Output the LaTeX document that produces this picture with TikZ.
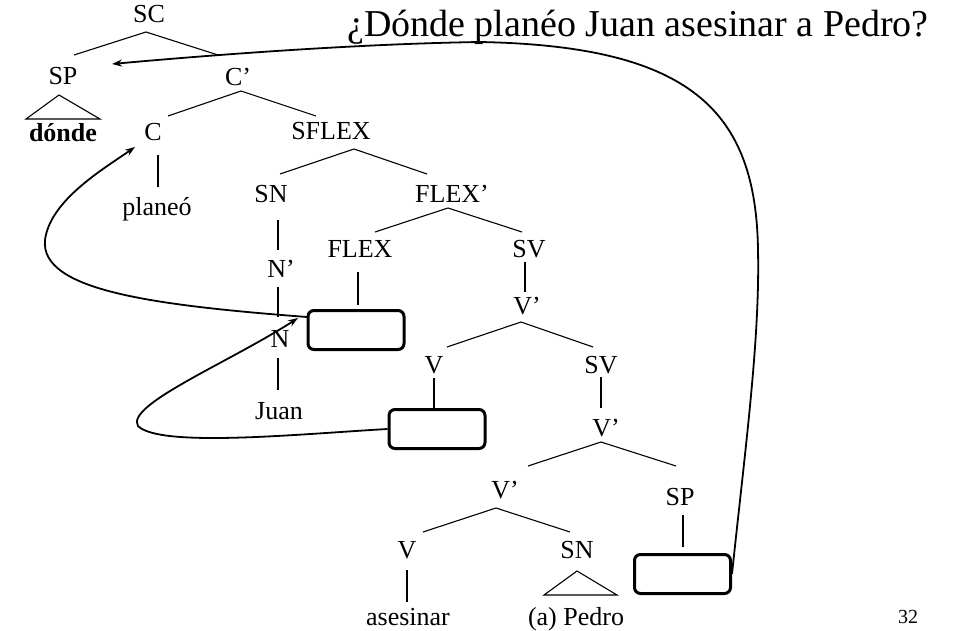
\documentclass[tikz,border=0pt]{standalone}
\usepackage{fontspec}
\setmainfont{Liberation Serif}
\usetikzlibrary{arrows.meta,calc}
\begin{document}
\begin{tikzpicture}[x=1pt,y=-1pt,
  lab/.style={anchor=base,inner sep=0pt,font=\fontsize{26}{28}\selectfont},
  tline/.style={line width=1.1pt},
  trace/.style={draw,line width=3pt,rounded corners=6pt,minimum width=96pt,minimum height=39pt,inner sep=0pt},
  mv/.style={line width=1.8pt,-{Stealth[length=10pt,width=7pt]}},
  mvn/.style={line width=1.8pt}]
\useasboundingbox (0,0) rectangle (963,631);
% title
\node[anchor=base,inner sep=0pt,font=\fontsize{38}{40}\selectfont] (title) at (638,37) {¿Dónde planéo Juan asesinar a Pedro?};
\node[anchor=base,inner sep=0pt,font=\fontsize{20}{22}\selectfont] (pg) at (908,623) {32};
% labels
\node[lab] (SC) at (149,23) {SC};
\node[lab] (SP) at (63,85) {SP};
\node[lab] (Cb) at (238,86) {C’};
\node[lab,font=\fontsize{26}{28}\selectfont\bfseries] (donde) at (63,142) {dónde};
\node[lab] (C) at (153,141) {C};
\node[lab] (SFLEX) at (331,140) {SFLEX};
\node[lab] (planeo) at (157,215) {planeó};
\node[lab] (SN) at (271,202) {SN};
\node[lab] (FLEXb) at (452,202) {FLEX’};
\node[lab] (Nb) at (281,277) {N’};
\node[lab] (FLEX) at (360,257) {FLEX};
\node[lab] (SV) at (529,257) {SV};
\node[lab] (Vb1) at (527,314) {V’};
\node[lab] (N) at (280,347) {N};
\node[lab] (V1) at (434,373) {V};
\node[lab] (SV2) at (601,373) {SV};
\node[lab] (Juan) at (279,419) {Juan};
\node[lab] (Vb2) at (606,436) {V’};
\node[lab] (Vb3) at (505,498) {V’};
\node[lab] (SP2) at (680,505) {SP};
\node[lab] (V2) at (407,558) {V};
\node[lab] (SN2) at (577,558) {SN};
\node[lab] (asesinar) at (408,625) {asesinar};
\node[lab] (pedro) at (576,625) {(a) Pedro};
% trace boxes
\node[trace] (box1) at (356,330) {};
\node[trace] (box2) at (437,429) {};
\node[trace] (box3) at (682.5,574) {};
% tree branch coordinates
\coordinate (aSC) at (146,32); \coordinate (lSC) at (74,55); \coordinate (rSC) at (218,55);
\coordinate (aSP) at (59,95); \coordinate (bSPl) at (26,119); \coordinate (bSPr) at (100,119);
\coordinate (aCb) at (241,91); \coordinate (lCb) at (168,116); \coordinate (rCb) at (316,116);
\coordinate (sC1) at (158,155); \coordinate (sC2) at (158,187);
\coordinate (aSF) at (354,149); \coordinate (lSF) at (280,174); \coordinate (rSF) at (427,174);
\coordinate (sSN1) at (278,220); \coordinate (sSN2) at (278,250);
\coordinate (sNb1) at (278,287); \coordinate (sNb2) at (278,317);
\coordinate (sN1) at (278,358); \coordinate (sN2) at (278,390);
\coordinate (aFb) at (448,208); \coordinate (lFb) at (375,232); \coordinate (rFb) at (522,232);
\coordinate (sF1) at (358,272); \coordinate (sF2) at (358,305);
\coordinate (sSV1) at (525,262); \coordinate (sSV2) at (525,292);
\coordinate (aVb1) at (521,322); \coordinate (lVb1) at (447,347); \coordinate (rVb1) at (593,347);
\coordinate (sV1a) at (434,378); \coordinate (sV1b) at (434,409);
\coordinate (sSVa) at (601,377); \coordinate (sSVb) at (601,408);
\coordinate (aVb2) at (601,442); \coordinate (lVb2) at (528,466); \coordinate (rVb2) at (676,466);
\coordinate (aVb3) at (496,508); \coordinate (lVb3) at (423,532); \coordinate (rVb3) at (570,532);
\coordinate (sSPa) at (683,515); \coordinate (sSPb) at (683,547);
\coordinate (sV2a) at (407,570); \coordinate (sV2b) at (407,602);
\coordinate (aSN2) at (577,571); \coordinate (bSNl) at (544,595); \coordinate (bSNr) at (617,595);
% tree lines
\draw[tline] (lSC) -- (aSC) -- (rSC);
\draw[tline] (bSPl) -- (aSP) -- (bSPr) -- cycle;
\draw[tline] (lCb) -- (aCb) -- (rCb);
\draw[tline] (sC1) -- (sC2);
\draw[tline] (lSF) -- (aSF) -- (rSF);
\draw[tline] (sSN1) -- (sSN2);
\draw[tline] (sNb1) -- (sNb2);
\draw[tline] (sN1) -- (sN2);
\draw[tline] (lFb) -- (aFb) -- (rFb);
\draw[tline] (sF1) -- (sF2);
\draw[tline] (sSV1) -- (sSV2);
\draw[tline] (lVb1) -- (aVb1) -- (rVb1);
\draw[tline] (sV1a) -- (sV1b);
\draw[tline] (sSVa) -- (sSVb);
\draw[tline] (lVb2) -- (aVb2) -- (rVb2);
\draw[tline] (lVb3) -- (aVb3) -- (rVb3);
\draw[tline] (sSPa) -- (sSPb);
\draw[tline] (sV2a) -- (sV2b);
\draw[tline] (bSNl) -- (aSN2) -- (bSNr) -- cycle;
% movement arrows
\coordinate (tipSP) at (112,64);
\coordinate (tipC) at (135,147);
\coordinate (tipN) at (298,318);
\coordinate (b1out) at (307,317);
\draw[mv] (box3.east) .. controls (745,450) and (760,340) .. (758,250)
  .. controls (756,110) and (690,46) .. (480,42)
  .. controls (350,44) and (200,56) .. (tipSP);
\draw[mv] (b1out) .. controls (150,305) and (40,290) .. (45,240)
  .. controls (50,200) and (105,168) .. (tipC);
\draw[mv] (box2.west) .. controls (300,434) and (160,448) .. (138,426)
  .. controls (125,405) and (230,362) .. (tipN);
\end{tikzpicture}
\end{document}
